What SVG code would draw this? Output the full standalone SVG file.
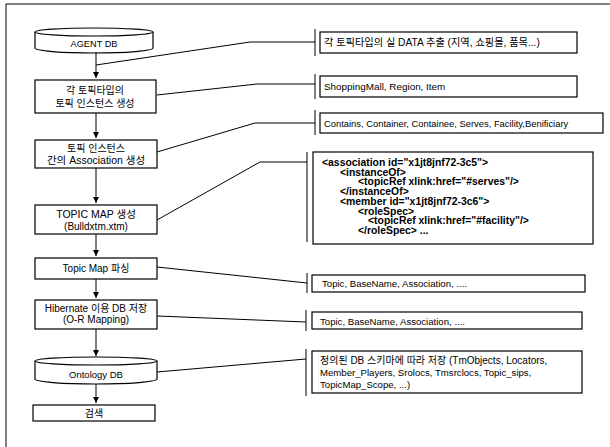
<svg xmlns="http://www.w3.org/2000/svg" width="610" height="447" viewBox="0 0 610 447">
<defs>
<marker id="ah" viewBox="0 0 6 6" refX="6" refY="3" markerWidth="6" markerHeight="6" markerUnits="userSpaceOnUse" orient="auto">
<path d="M0,0 L6,3 L0,6 Z" fill="#000"/>
</marker>
</defs>
<style>
.box{fill:#fff;stroke:#000;stroke-width:1.2}
.t{font-family:"Liberation Sans","Noto Sans CJK KR",sans-serif;font-size:10px;fill:#000;text-anchor:middle}
.r{font-family:"Liberation Sans","Noto Sans CJK KR",sans-serif;font-size:9.6px;fill:#000}
.x{font-family:"Liberation Sans",sans-serif;font-size:10.4px;font-weight:bold;fill:#000}
.ln{fill:none;stroke:#000;stroke-width:1}
.ar{fill:none;stroke:#000;stroke-width:1;marker-end:url(#ah)}
</style>
<rect width="610" height="447" fill="#fff"/>
<g id="frame"><path class="ln" d="M6,447 L6,4 L610,4"/></g>

<g id="n1"><path class="box" d="M35,32 L35,48 A59,5 0 0 0 153,48 L153,32"/><ellipse class="box" cx="94" cy="32" rx="59" ry="4"/><text class="t" x="94" y="47" style="font-size:9.2px">AGENT DB</text></g>
<g id="n2"><rect class="box" x="35" y="80" width="121" height="33"/><text class="t" x="95" y="94">각 토픽타입의</text><text class="t" x="95" y="107">토픽 인스턴스 생성</text></g>
<g id="n3"><rect class="box" x="35" y="140" width="122" height="28"/><text class="t" x="96" y="152">토픽 인스턴스</text><text class="t" x="96" y="164" style="font-size:10.5px">간의 Association 생성</text></g>
<g id="n4"><rect class="box" x="35" y="205" width="122" height="29"/><text class="t" x="96" y="218" style="font-size:10.5px">TOPIC MAP 생성</text><text class="t" x="96" y="230">(Bulldxtm.xtm)</text></g>
<g id="n5"><rect class="box" x="35" y="258" width="122" height="21"/><text class="t" x="96" y="272">Topic Map 파싱</text></g>
<g id="n6"><rect class="box" x="35" y="300" width="122" height="29"/><text class="t" x="96" y="311.5">Hibernate 이용 DB 저장</text><text class="t" x="96" y="323">(O-R Mapping)</text></g>
<g id="n7"><path class="box" d="M35,361 L35,379 A61,5 0 0 0 157,379 L157,361"/><ellipse class="box" cx="96" cy="361" rx="61" ry="4"/><text class="t" x="96" y="378" style="font-size:9.5px">Ontology DB</text></g>
<g id="n8"><rect class="box" x="33" y="405" width="122" height="16"/><text class="t" x="94" y="416.5">검색</text></g>

<g id="r1"><rect class="box" x="320" y="32" width="257" height="21"/><text class="r" x="324" y="46" style="font-size:10.2px">각 토픽타입의  실 DATA 추출 (지역, 쇼핑몰, 품목...)</text></g>
<g id="r2"><rect class="box" x="320" y="76" width="257" height="21"/><text class="r" x="324" y="90" style="font-size:9.9px">ShoppingMall, Region, Item</text></g>
<g id="r3"><rect class="box" x="320" y="113" width="283" height="20"/><text class="r" x="324" y="126.5" style="font-size:9.4px">Contains, Container, Containee, Serves, Facility,Benificiary</text></g>
<g id="r4"><rect class="box" x="313" y="152" width="280" height="92"/>
<text class="x" x="322" y="166">&lt;association id="x1jt8jnf72-3c5"&gt;</text>
<text class="x" x="340" y="175.7">&lt;instanceOf&gt;</text>
<text class="x" x="358" y="185.4">&lt;topicRef xlink:href="#serves"/&gt;</text>
<text class="x" x="340" y="195.1">&lt;/instanceOf&gt;</text>
<text class="x" x="340" y="204.8">&lt;member id="x1jt8jnf72-3c6"&gt;</text>
<text class="x" x="358" y="214.5">&lt;roleSpec&gt;</text>
<text class="x" x="368" y="224.2">&lt;topicRef xlink:href="#facility"/&gt;</text>
<text class="x" x="358" y="233.9">&lt;/roleSpec&gt; ...</text>
</g>
<g id="r5"><rect class="box" x="312" y="275" width="273" height="17"/><text class="r" x="322" y="287">Topic, BaseName, Association, ....</text></g>
<g id="r6"><rect class="box" x="312" y="312" width="270" height="17"/><text class="r" x="320" y="324.5">Topic, BaseName, Association, ....</text></g>
<g id="r7"><rect class="box" x="312" y="351" width="270" height="42"/><text class="r" x="320" y="363.5" style="font-size:10px">정의된 DB 스키마에 따라 저장 (TmObjects, Locators,</text><text class="r" x="320" y="376">Member_Players, Srolocs, Tmsrclocs, Topic_sips,</text><text class="r" x="320" y="388">TopicMap_Scope, ...)</text></g>

<g id="connectors">
<path class="ar" d="M96,52 L96,78"/>
<path class="ar" d="M96,113 L96,138"/>
<path class="ar" d="M96,168 L96,203"/>
<path class="ar" d="M96,234 L96,256"/>
<path class="ar" d="M96,279 L96,298"/>
<path class="ar" d="M96,329 L96,356"/>
<path class="ar" d="M96,384 L96,403"/>
<path class="ln" d="M96,65 L250,42 L315,42"/>
<path class="ln" d="M157,95 L257,84 L315,84"/>
<path class="ln" d="M157,152 L255,123 L315,123"/>
<path class="ln" d="M157,220 L260,162 L307,162"/>
<path class="ln" d="M157,267 L307,283"/>
<path class="ln" d="M157,316 L306,322"/>
<path class="ln" d="M157,372 L306,359"/>
<path class="ln" d="M315,29 L315,56 M315,74 L315,99 M315,110 L315,135 M307,152 L307,242 M307,273 L307,293 M306,310 L306,331 M306,349 L306,396"/>
</g>
</svg>
